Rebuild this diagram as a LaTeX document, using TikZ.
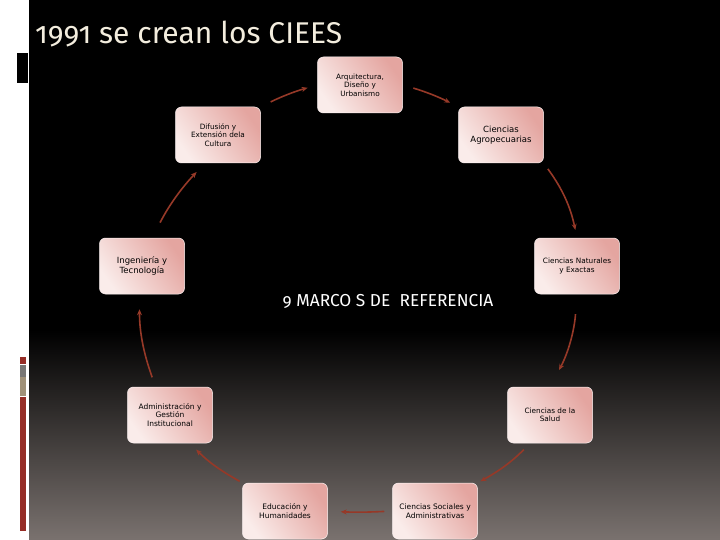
\documentclass[tikz,border=0pt]{standalone}
\usepackage{fontspec}
\setmainfont{Fira Sans}[Numbers=OldStyle]
\newfontfamily\boxfont{DejaVu Sans}
\usetikzlibrary{arrows.meta,shadows}
\definecolor{arrowred}{RGB}{150,57,40}
\definecolor{boxlight}{RGB}{250,236,234}
\definecolor{boxdark}{RGB}{228,165,160}
\definecolor{bggray}{RGB}{122,114,111}
\definecolor{titlecol}{RGB}{243,237,222}
\definecolor{barred}{RGB}{150,45,38}
\definecolor{bargray}{RGB}{120,118,116}
\definecolor{bartan}{RGB}{160,145,120}
\tikzset{
  box/.style={rounded corners=6pt, minimum width=85pt, minimum height=56pt,
    draw=white!85!pink, line width=0.5pt, left color=boxlight, right color=boxdark,
    shading angle=125, align=center, text=black, font=\boxfont\fontsize{7.3}{8.5}\selectfont,
    inner sep=2pt},
  conn/.style={draw=arrowred, line width=1.6pt, -{Stealth[length=6pt,width=5pt]}},
}
\begin{document}
\begin{tikzpicture}[x=1pt,y=-1pt]
\useasboundingbox (0,0) rectangle (720,540);
% background
\fill[white] (0,0) rectangle (720,540);
\fill[black] (29,0) rectangle (720,331);
\shade[top color=black, bottom color=bggray] (29,330) rectangle (720,540);
% left decorations
\fill[black] (17,53) rectangle (28,83);
\fill[barred] (20,357) rectangle (26,364);
\fill[bargray] (20,365) rectangle (26,377);
\fill[bartan] (20,377) rectangle (26,396);
\fill[barred] (20,397) rectangle (26,531);
% title
\node[anchor=base west, inner sep=0pt, text=titlecol, font=\fontsize{30}{33}\selectfont] (title) at (35,44) {1991 se crean los CIEES};
% nodes
\node[box] (arq) at (360,85) {Arquitectura,\\Diseño y\\Urbanismo};
\node[box] (dif) at (218,135) {Difusión y\\Extensión dela\\Cultura};
\node[box, font=\boxfont\fontsize{8.5}{10.5}\selectfont] (agro) at (501,135) {Ciencias\\Agropecuarias};
\node[box, font=\boxfont\fontsize{8.5}{10.5}\selectfont] (ing) at (142,266) {Ingeniería y\\Tecnología};
\node[box] (nat) at (577,266) {Ciencias Naturales\\y Exactas};
\node[box, font=\boxfont\fontsize{7.5}{8.6}\selectfont] (adm) at (170,415) {Administración y\\Gestión\\Institucional};
\node[box] (sal) at (550,415) {Ciencias de la\\Salud};
\node[box, font=\boxfont\fontsize{7.5}{9}\selectfont] (edu) at (285,511) {Educación y\\Humanidades};
\node[box, font=\boxfont\fontsize{7.5}{9}\selectfont] (soc) at (435,511) {Ciencias Sociales y\\Administrativas};
% center text
\node[text=white, font=\fontsize{17.3}{19}\selectfont, anchor=base] (center) at (388,306) {9 MARCO S DE\ \ REFERENCIA};
% connectors
\draw[conn, shorten <=11pt, shorten >=10pt] (dif.north east) to[bend left=5] (arq.west);
\draw[conn, shorten <=11pt, shorten >=9pt] (arq.east) to[bend left=5] (agro.north west);
\draw[conn, shorten <=7pt, shorten >=8pt] (agro.south east) to[bend left=12] (nat.north);
\draw[conn, shorten <=20pt, shorten >=19pt] (nat.south) to[bend left=12] (sal.north);
\draw[conn, shorten <=9pt, shorten >=3pt] (sal.-125) to[bend left=8] (soc.north east);
\draw[conn, shorten <=8pt, shorten >=13pt] (soc.west) to[bend left=3] (edu.east);
\draw[conn, shorten <=3pt, shorten >=9pt] (edu.north west) to[bend left=8] (adm.-55);
\draw[conn, shorten <=10pt, shorten >=15pt] (adm.117) to[bend left=10] (ing.-95);
\draw[conn, shorten <=17pt, shorten >=12pt] (ing.70) to[bend left=8] (dif.-115);
\end{tikzpicture}
\end{document}
